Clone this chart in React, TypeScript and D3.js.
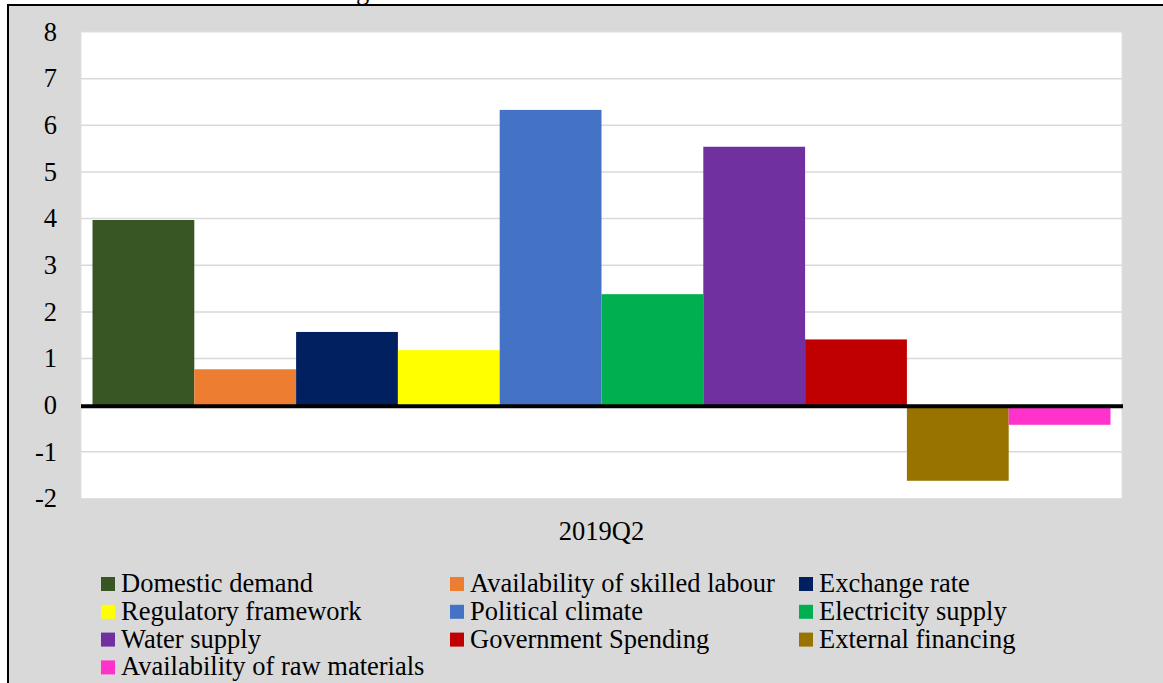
import React from "react";
import * as d3 from "d3";

const categories = ["2019Q2"];
const seriesNames = [
  "Domestic demand",
  "Availability of skilled labour",
  "Exchange rate",
  "Regulatory framework",
  "Political climate",
  "Electricity supply",
  "Water supply",
  "Government Spending",
  "External financing",
  "Availability of raw materials",
];
const seriesValues = [3.97, 0.77, 1.57, 1.18, 6.33, 2.38, 5.54, 1.41, -1.62, -0.42];
const seriesColors = [
  "#375623", "#ed7d31", "#002060", "#ffff00", "#4472c4",
  "#00b050", "#7030a0", "#c00000", "#997300", "#ff33cc",
];
const yTicks = [-2, -1, 0, 1, 2, 3, 4, 5, 6, 7, 8];

const W = 1163;
const H = 683;
const FONT = "Liberation Serif, Times New Roman, DejaVu Serif, serif";

export default function App() {
  const plot = { left: 81, right: 1122, top: 32, bottom: 498.5 };
  const y = d3.scaleLinear().domain([-2, 8]).range([plot.bottom, plot.top]);
  const x0 = d3.scaleBand().domain(categories).range([plot.left, plot.right]).paddingInner(0).paddingOuter(0.0113);
  const x1 = d3.scaleBand().domain(seriesNames).range([0, x0.bandwidth()]).padding(0);

  const legendCols = [101, 450, 799];
  const legendRow0 = 592;
  const legendRowStep = 27.8;
  const fs = 26.5;

  return (
    <svg width={W} height={H} style={{ position: "absolute", left: 0, top: 0, fontFamily: FONT }}>
      <rect x={0} y={0} width={W} height={H} fill="#ffffff" />
      <rect x={8} y={5} width={W + 20} height={H + 20} fill="#d9d9d9" stroke="#000" strokeWidth={2} />
      <text x={356} y={-1} fontSize={fs} fill="#000" style={{ fontFamily: FONT }}>g</text>
      <rect x={plot.left} y={plot.top} width={plot.right - plot.left} height={plot.bottom - plot.top} fill="#fff" stroke="#e0e0e0" strokeWidth={1} />
      {yTicks.map((t) => (
        <g key={t}>
          {t !== 0 && t !== 8 && t !== -2 && (
            <line x1={plot.left} x2={plot.right} y1={y(t)} y2={y(t)} stroke="#d9d9d9" strokeWidth={1.5} />
          )}
          <text x={57} y={y(t)} dy="0.33em" textAnchor="end" fontSize={fs} fill="#000" style={{ fontFamily: FONT }}>{t}</text>
        </g>
      ))}
      {categories.map((c) => (
        <g key={c} transform={`translate(${x0(c)},0)`}>
          {seriesNames.map((s, i) => {
            const v = seriesValues[i];
            return (
              <rect key={s} x={x1(s)} width={x1.bandwidth()} y={y(Math.max(0, v))} height={Math.abs(y(v) - y(0))} fill={seriesColors[i]} />
            );
          })}
        </g>
      ))}
      <line x1={plot.left} x2={plot.right + 1} y1={y(0) + 1} y2={y(0) + 1} stroke="#000" strokeWidth={4} />
      {categories.map((c) => (
        <text key={c} x={(x0(c) as number) + x0.bandwidth() / 2} y={540} textAnchor="middle" fontSize={fs} fill="#000" style={{ fontFamily: FONT }}>{c}</text>
      ))}
      {seriesNames.map((s, i) => {
        const col = i % 3;
        const row = Math.floor(i / 3);
        const lx = legendCols[col];
        const ly = legendRow0 + row * legendRowStep;
        return (
          <g key={s}>
            <rect x={lx} y={ly - 15} width={14} height={14} fill={seriesColors[i]} />
            <text x={lx + 20} y={ly} fontSize={fs} fill="#000" style={{ fontFamily: FONT }}>{s}</text>
          </g>
        );
      })}
    </svg>
  );
}
